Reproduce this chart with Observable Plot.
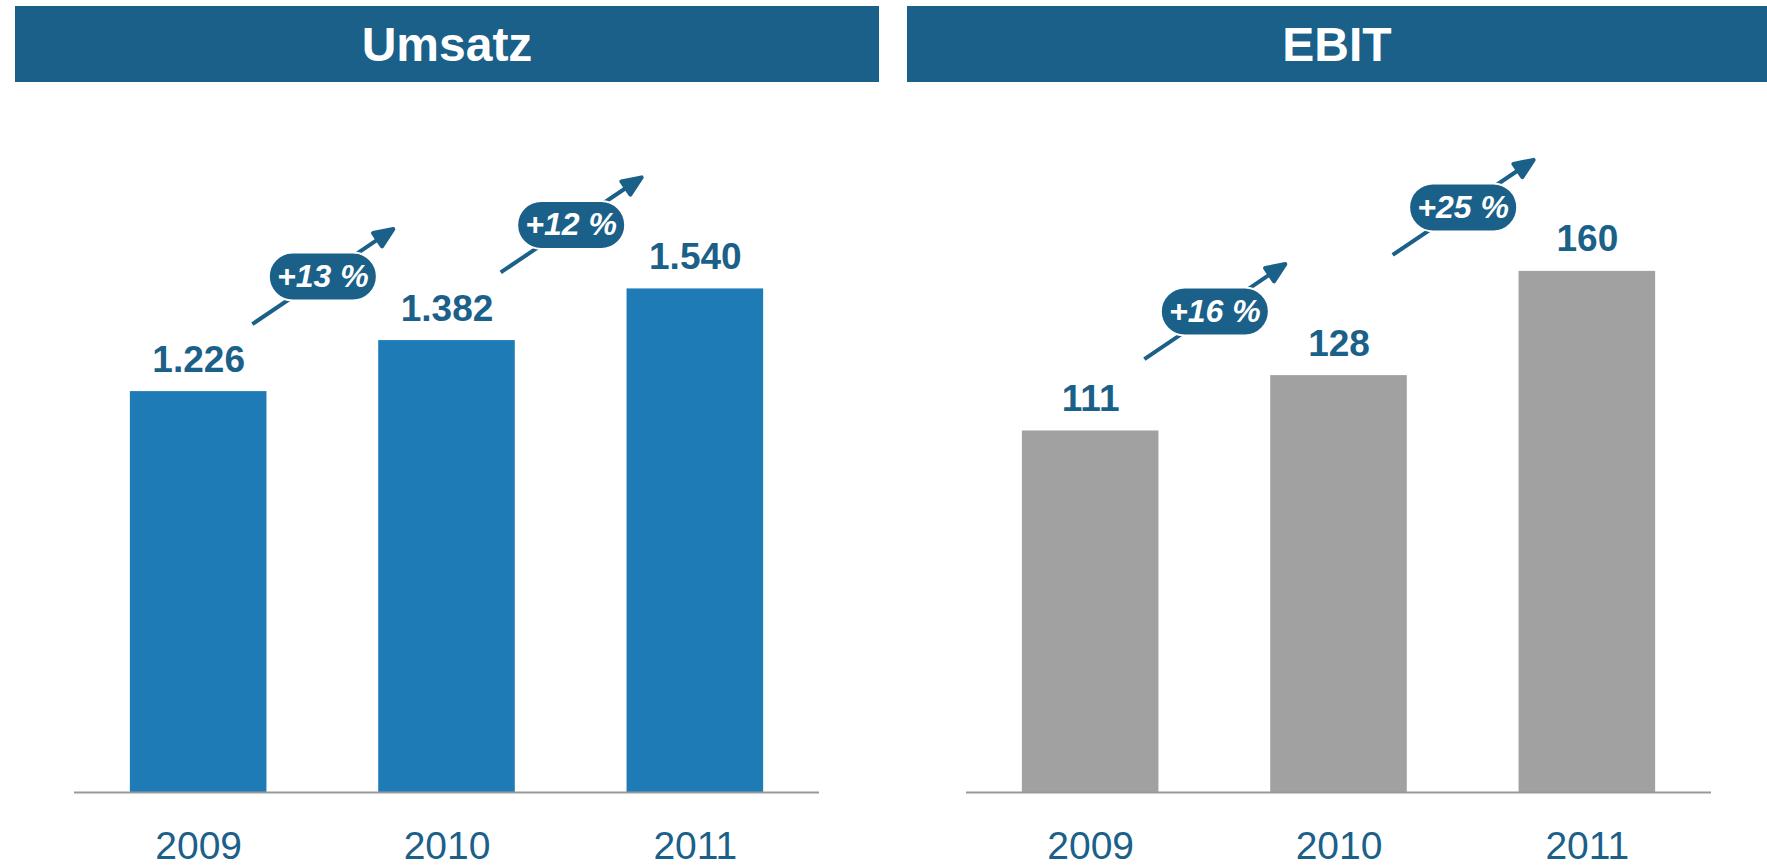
<!DOCTYPE html>
<html><head><meta charset="utf-8">
<script src="https://cdn.jsdelivr.net/npm/d3@7"></script>
<script src="https://cdn.jsdelivr.net/npm/@observablehq/plot@0.6"></script>
<style>
body{margin:0;background:#fff;width:1767px;height:866px;overflow:hidden;position:relative;font-family:"Liberation Sans",Arial,sans-serif;}
.hdr{position:absolute;top:6px;height:76px;background:#1a6089;color:#fff;font-weight:bold;font-size:48px;display:flex;align-items:center;justify-content:center;}
.panel{position:absolute;top:0;}
</style></head><body>
<script>
// ---- data ----
const titles = ["Umsatz", "EBIT"];
const years = [2009, 2010, 2011];
const umsatz = [1226, 1382, 1540];
const ebit = [111, 128, 160];
const umsatzGrowth = ["+13 %", "+12 %"];
const ebitGrowth = ["+16 %", "+25 %"];

const DARK = "#1a6089";
const de = d3.formatLocale({decimal: ",", thousands: ".", grouping: [3], currency: ["", " €"]});
const fmt = de.format(",d");

const arrowShape = {
  draw(ctx, l) {
    const h = 19, w = 8;
    ctx.moveTo(0, 0); ctx.lineTo(0, -(l - h));
    ctx.moveTo(-w, -(l - h)); ctx.lineTo(0, -l); ctx.lineTo(w, -(l - h)); ctx.closePath();
  }
};
const pillSymbol = {
  draw(ctx) {
    const w = 108, h = 48, r = h / 2, x0 = -w / 2 + r, x1 = w / 2 - r;
    ctx.moveTo(x0, -r); ctx.lineTo(x1, -r);
    ctx.arc(x1, 0, r, -Math.PI / 2, Math.PI / 2);
    ctx.lineTo(x0, r);
    ctx.arc(x0, 0, r, Math.PI / 2, 3 * Math.PI / 2);
    ctx.closePath();
  }
};

function panel(values, growth, color, yMax, width, mL, mR) {
  const bars = years.map((y, i) => ({year: y, value: values[i]}));
  const g = growth.map((label, i) => ({x: (years[i] + years[i + 1]) / 2, y: Math.max(values[i], values[i + 1]), label}));
  return Plot.plot({
    width, height: 866,
    marginLeft: mL, marginRight: mR, marginTop: 138, marginBottom: 74,
    style: {fontFamily: '"Liberation Sans", Arial, sans-serif', color: DARK, background: "transparent", overflow: "visible"},
    x: {type: "linear", domain: [years[0] - 0.5, years[years.length - 1] + 0.5]},
    y: {domain: [0, yMax], axis: null},
    marks: [
      Plot.rectY(bars, {x1: d => d.year - 0.275, x2: d => d.year + 0.275, y: "value", fill: color}),
      Plot.ruleY([0], {stroke: "#999", strokeWidth: 2}),
      Plot.axisX(years, {tickSize: 0, tickPadding: 39, fontSize: 39, tickFormat: d => String(d), label: null, fill: DARK}),
      Plot.text(bars, {x: "year", y: "value", text: d => fmt(d.value), dy: -20, lineAnchor: "bottom", fontSize: 37, fontWeight: "bold", fill: DARK}),
      Plot.vector(g, {x: "x", y: "y", dy: -64, length: 170, rotate: 56, anchor: "middle", shape: arrowShape, stroke: DARK, fill: DARK, strokeWidth: 4, strokeLinecap: "butt", strokeLinejoin: "round"}),
      Plot.dot(g, {x: "x", y: "y", dy: -64, symbol: pillSymbol, fill: DARK, stroke: "white", strokeWidth: 2}),
      Plot.text(g, {x: "x", y: "y", dy: -64, text: "label", fontSize: 32, fontWeight: "bold", fontStyle: "italic", fill: "white"})
    ]
  });
}

function addHeader(text, left, width) {
  const d = document.createElement("div");
  d.className = "hdr"; d.style.left = left + "px"; d.style.width = width + "px"; d.textContent = text;
  document.body.appendChild(d);
}
function addPanel(svg, left) {
  const w = document.createElement("div");
  w.className = "panel"; w.style.left = left + "px";
  w.appendChild(svg);
  document.body.appendChild(w);
}

addPanel(panel(umsatz, umsatzGrowth, "#1f7bb6", 2000, 890, 74, 71), 0);
addPanel(panel(ebit, ebitGrowth, "#a1a1a1", 200.8, 877, 76, 56), 890);
addHeader(titles[0], 15, 864);
addHeader(titles[1], 907, 860);
</script>
</body></html>
